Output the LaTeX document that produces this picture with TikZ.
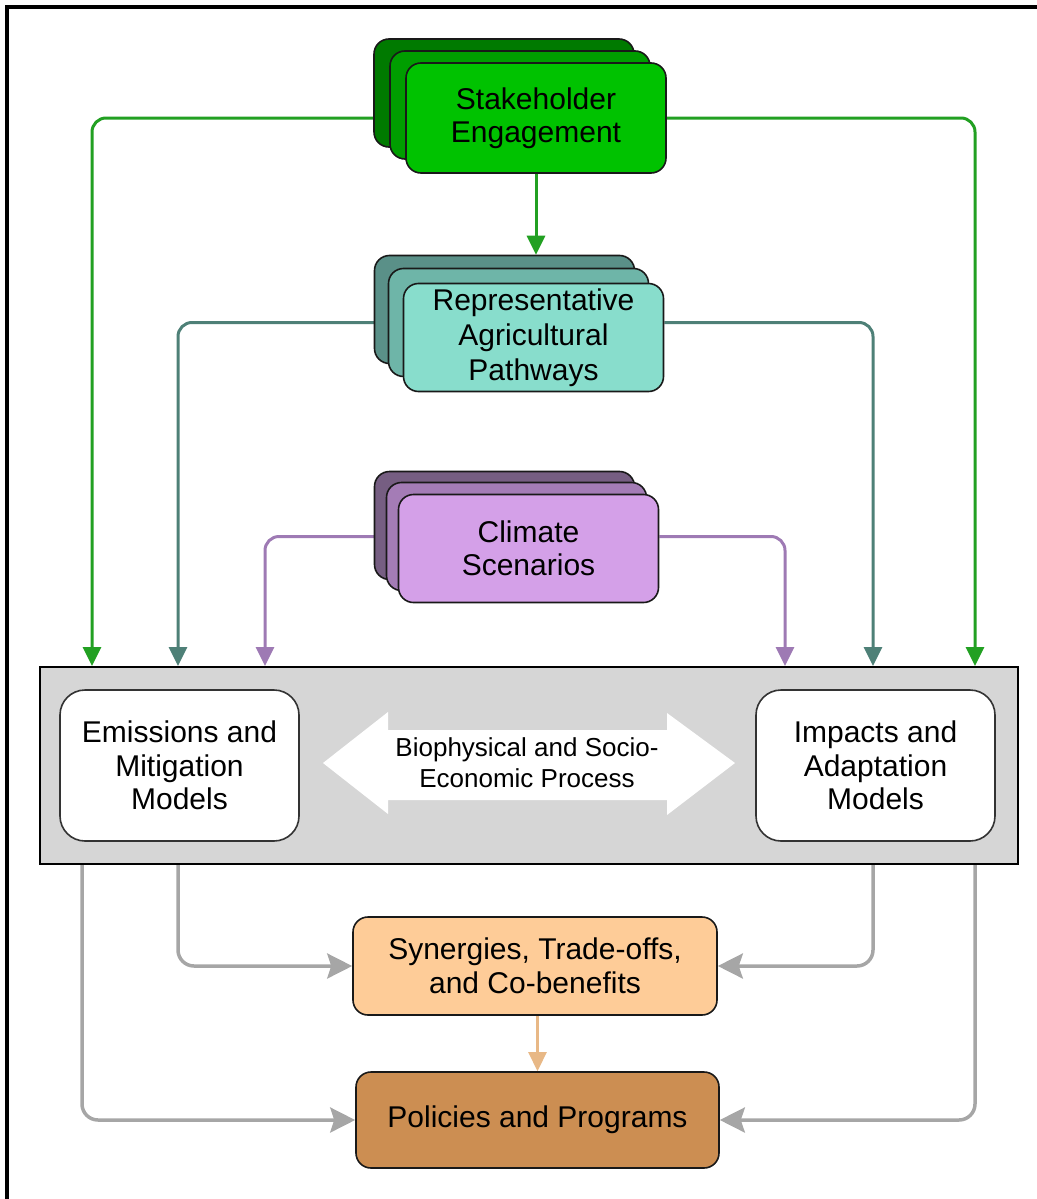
\documentclass[tikz,border=0pt]{standalone}
\usepackage{fontspec}
\setmainfont{Liberation Sans}
\usetikzlibrary{arrows.meta,backgrounds,calc}
\definecolor{shF}{HTML}{00C200}
\definecolor{shM}{HTML}{009E00}
\definecolor{shB}{HTML}{007A00}
\definecolor{raF}{HTML}{88DDCC}
\definecolor{raM}{HTML}{6EB5A8}
\definecolor{raB}{HTML}{5A9088}
\definecolor{csF}{HTML}{D4A0E8}
\definecolor{csM}{HTML}{A47CB6}
\definecolor{csB}{HTML}{765E82}
\definecolor{synF}{HTML}{FECC98}
\definecolor{polF}{HTML}{CC8E52}
\definecolor{panelF}{HTML}{D6D6D6}
\definecolor{gLine}{HTML}{22A022}
\definecolor{tLine}{HTML}{4E8077}
\definecolor{pLine}{HTML}{9E7AB4}
\definecolor{aLine}{HTML}{A6A6A6}
\definecolor{oLine}{HTML}{E8B886}
\begin{document}
\begin{tikzpicture}[x=1pt,y=-1pt,
  stk/.style={draw=black!90, line width=1.6pt, rounded corners=15pt, align=center,
    inner sep=0pt, minimum width=260pt, minimum height=108pt,
    font=\fontsize{30}{33}\selectfont},
  modelbox/.style={draw=black!80, line width=1.6pt, rounded corners=25pt, fill=white,
    align=center, inner sep=0pt, minimum width=239pt, minimum height=151pt,
    font=\fontsize{30}{33.5}\selectfont},
  outbox/.style={draw=black!90, line width=1.6pt, rounded corners=15pt, align=center,
    inner sep=0pt, font=\fontsize{30}{34}\selectfont},
  conn/.style={line width=3pt, rounded corners=14pt,
    -{Triangle[length=19pt,width=18pt]}},
  gconn/.style={line width=3.5pt, rounded corners=16pt, draw=aLine,
    -{Stealth[length=25pt,width=25pt,inset=4pt]}}
]
\useasboundingbox (0,0) rectangle (1036,1199);
\draw[line width=3.5pt] (7,1210) -- (7,7) -- (1045,7);

% stacked boxes
\node[stk, fill=shB] (sh3) at (504,93) {};
\node[stk, fill=shM] (sh2) at (520,105) {};
\node[stk, fill=shF, minimum height=110pt] (sh) at (536,118) {Stakeholder\\Engagement};

\node[stk, fill=raB] (ra3) at (504.5,309.5) {};
\node[stk, fill=raM] (ra2) at (518.5,322.5) {};
\node[stk, fill=raF, font=\fontsize{30}{35}\selectfont] (ra) at (533.5,337.5) {Representative\\Agricultural\\Pathways};

\node[stk, fill=csB] (cs3) at (504.5,525.5) {};
\node[stk, fill=csM] (cs2) at (516.5,536.5) {};
\node[stk, fill=csF] (cs) at (528.5,548.5) {Climate\\Scenarios};

% panel
\node[draw=black, line width=2pt, fill=panelF, minimum width=978pt, minimum height=197pt,
  inner sep=0pt] (panel) at (529,765.5) {};
\node[modelbox] (em) at (179.5,765.5) {Emissions and\\Mitigation\\Models};
\node[modelbox] (im) at (875.5,765.5) {Impacts and\\Adaptation\\Models};
\fill[white] (323,763) -- (388,712) -- (388,730) -- (667,730) -- (667,713) -- (735,763)
  -- (667,815) -- (667,800) -- (388,800) -- (388,814) -- cycle;
\node[align=center, inner sep=0pt, font=\fontsize{26}{31}\selectfont] (bio) at (527,763)
  {Biophysical and Socio-\\Economic Process};

% outputs
\node[outbox, fill=synF, minimum width=364pt, minimum height=98pt] (syn) at (535,966) {Synergies, Trade-offs,\\and Co-benefits};
\node[outbox, fill=polF, minimum width=363pt, minimum height=96pt] (pol) at (537.5,1120) {\raisebox{-3pt}{Policies and Programs}};

% x positions
\coordinate (xg1) at (92,0);
\coordinate (xg2) at (975,0);
\coordinate (xt1) at (178,0);
\coordinate (xt2) at (873,0);
\coordinate (xp1) at (265,0);
\coordinate (xp2) at (785,0);
\coordinate (xa1) at (82,0);

\begin{scope}[on background layer]
\draw[conn, draw=gLine] (sh.west) -| (panel.north -| xg1);
\draw[conn, draw=gLine] (sh.east) -| (panel.north -| xg2);
\draw[conn, draw=gLine] (sh.south) -- (sh.south |- ra3.north);
\draw[conn, draw=tLine] (ra2.west) -| (panel.north -| xt1);
\draw[conn, draw=tLine] (ra.east |- ra2.west) -| (panel.north -| xt2);
\draw[conn, draw=pLine] (cs2.west) -| (panel.north -| xp1);
\draw[conn, draw=pLine] (cs.east |- cs2.west) -| (panel.north -| xp2);
\draw[gconn] (panel.south -| xa1) |- (pol.west);
\draw[gconn] (panel.south -| xt1) |- (syn.west);
\draw[gconn] (panel.south -| xt2) |- (syn.east);
\draw[gconn] (panel.south -| xg2) |- (pol.east);
\draw[conn, draw=oLine, line width=2.5pt] (pol.north |- syn.south) -- (pol.north);
\end{scope}
\end{tikzpicture}
\end{document}
